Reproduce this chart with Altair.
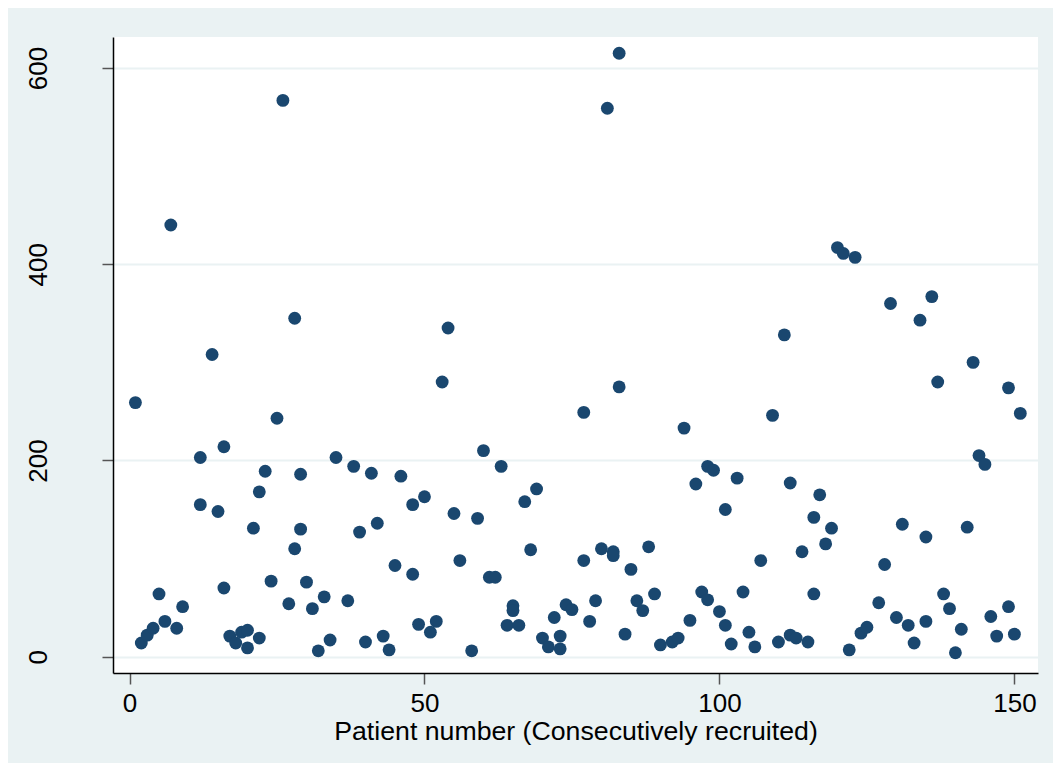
import altair as alt
import pandas as pd

patient = [1, 2, 3, 4, 5, 6, 7, 8, 9, 12, 12, 14, 15, 16, 16, 17, 18, 19, 20, 20,
           21, 22, 22, 23, 24, 25, 26, 27, 28, 28, 29, 29, 30, 31, 32, 33, 34, 35, 37, 38,
           39, 40, 41, 42, 43, 44, 45, 46, 48, 48, 49, 50, 51, 52, 53, 54, 55, 56, 58, 59,
           60, 61, 62, 63, 64, 65, 65, 66, 67, 68, 69, 70, 71, 72, 73, 73, 74, 75, 77, 77,
           78, 79, 80, 81, 82, 82, 83, 83, 84, 85, 86, 87, 88, 89, 90, 92, 93, 94, 95, 96,
           97, 98, 98, 99, 100, 101, 101, 102, 103, 104, 105, 106, 107, 109, 110, 111, 112, 112, 113, 114,
           115, 116, 116, 117, 118, 119, 120, 121, 122, 123, 124, 125, 127, 128, 129, 130, 131, 132, 133, 134,
           135, 135, 136, 137, 138, 139, 140, 141, 142, 143, 144, 145, 146, 147, 149, 149, 150, 151]
value = [259, 14, 22, 29, 64, 36, 440, 29, 51, 203, 155, 308, 148, 214, 70, 21, 14, 25, 27, 9,
         131, 168, 19, 189, 77, 243, 567, 54, 345, 110, 186, 130, 76, 49, 6, 61, 17, 203, 57, 194,
         127, 15, 187, 136, 21, 7, 93, 184, 155, 84, 33, 163, 25, 36, 280, 335, 146, 98, 6, 141,
         210, 81, 81, 194, 32, 52, 47, 32, 158, 109, 171, 19, 10, 40, 21, 8, 53, 48, 249, 98,
         36, 57, 110, 559, 107, 103, 615, 275, 23, 89, 57, 47, 112, 64, 12, 15, 19, 233, 37, 176,
         66, 194, 58, 190, 46, 150, 32, 13, 182, 66, 25, 10, 98, 246, 15, 328, 177, 22, 19, 107,
         15, 142, 64, 165, 115, 131, 417, 411, 7, 407, 24, 30, 55, 94, 360, 40, 135, 32, 14, 343,
         122, 36, 367, 280, 64, 49, 4, 28, 132, 300, 205, 196, 41, 21, 274, 51, 23, 248]

x_ticks = [0, 50, 100, 150]
y_ticks = [0, 200, 400, 600]

df = pd.DataFrame({"patient": patient, "value": value})

FONT = "Liberation Sans"

chart = alt.Chart(df).mark_circle(size=165, color="#1A476F", opacity=1).encode(
    x=alt.X("patient:Q",
            scale=alt.Scale(domain=[-2.8, 154], nice=False, zero=False),
            axis=alt.Axis(values=x_ticks, title="Patient number (Consecutively recruited)",
                          grid=False, tickSize=11, tickWidth=1.5, tickColor="#555555",
                          domainColor="#000000", domainWidth=1.5,
                          labelFontSize=26, labelFont=FONT, labelColor="#000000",
                          labelPadding=6, titleFontSize=26.7, titleFont=FONT,
                          titleFontWeight="normal", titleColor="#000000", titlePadding=2)),
    y=alt.Y("value:Q",
            scale=alt.Scale(domain=[-16.6, 631.6], nice=False, zero=False),
            axis=alt.Axis(values=y_ticks, title=None,
                          grid=True, gridColor="#EAF2F3", gridWidth=2,
                          tickSize=11, tickWidth=1.5, tickColor="#555555",
                          domainColor="#000000", domainWidth=1.5,
                          labelFontSize=26, labelFont=FONT, labelColor="#000000",
                          labelAngle=270, labelPadding=51)),
).properties(
    width=925, height=636,
    background="#EAF2F3",
    padding={"left": 105, "top": 29, "right": 15, "bottom": 90},
    autosize=alt.AutoSizeParams(type="none"),
).configure_view(stroke=None, fill="#FFFFFF")

chart.save("out.html", embed_options={"renderer": "svg", "actions": False})
